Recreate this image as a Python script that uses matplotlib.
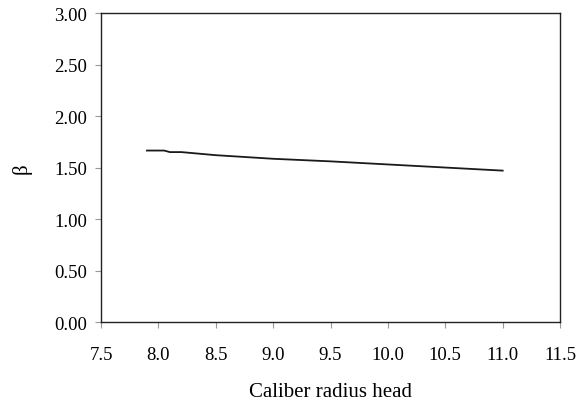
import matplotlib
matplotlib.use("Agg")
import matplotlib.pyplot as plt

# caliber radius head vs beta
crh = [7.9, 8.05, 8.1, 8.2, 8.5, 9.0, 9.5, 10.0, 10.5, 11.0]
beta = [1.665, 1.665, 1.65, 1.65, 1.62, 1.585, 1.56, 1.53, 1.50, 1.47]

x_ticks = [7.5, 8.0, 8.5, 9.0, 9.5, 10.0, 10.5, 11.0, 11.5]
y_ticks = [0.0, 0.5, 1.0, 1.5, 2.0, 2.5, 3.0]

plt.rcParams['font.family'] = ['Liberation Serif', 'DejaVu Serif']

fig = plt.figure(figsize=(5.84, 4.02), dpi=100)
ax = fig.add_axes([0.173, 0.1965, 0.786, 0.7685])

ax.plot(crh, beta, color='#1a1a1a', linewidth=1.3)

ax.set_xlim(7.5, 11.5)
ax.set_ylim(0, 3)
ax.set_xticks(x_ticks)
ax.set_xticklabels(['%.1f' % v for v in x_ticks])
ax.set_yticks(y_ticks)
ax.set_yticklabels(['%.2f' % v for v in y_ticks])
ax.tick_params(direction='out', length=4, width=0.8, color='#999999',
               labelsize=13.5)
ax.tick_params(axis='x', pad=13)
ax.tick_params(axis='y', pad=6)

for s in ax.spines.values():
    s.set_color('#222222')
    s.set_linewidth(1.0)

ax.set_xlabel('Caliber radius head', fontsize=15, labelpad=14)
ax.set_ylabel('β', fontsize=15, labelpad=16, rotation=90)

fig.savefig('out.png', dpi=100)
